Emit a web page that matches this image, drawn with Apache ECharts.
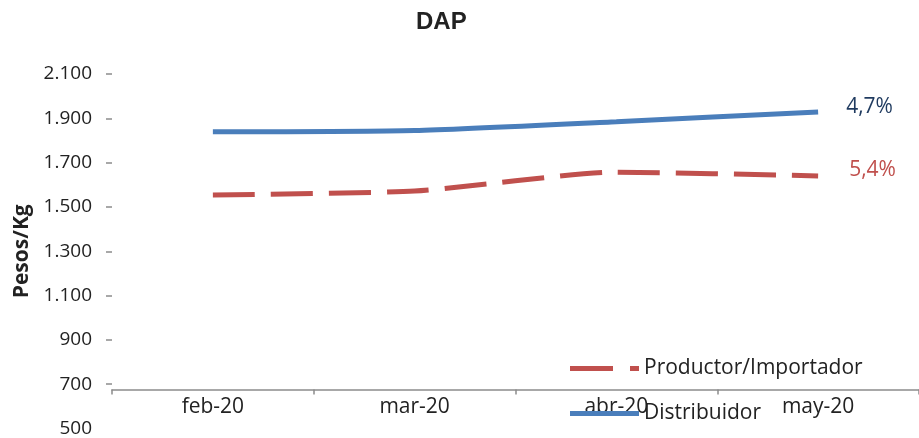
<!DOCTYPE html>
<html><head><meta charset="utf-8">
<script src="https://cdn.jsdelivr.net/npm/echarts@6/dist/echarts.min.js"></script>
<style>html,body{margin:0;padding:0;background:#fff}#c{width:919px;height:438px}</style>
</head><body><div id="c"></div>
<script>
const categories = ['feb-20', 'mar-20', 'abr-20', 'may-20'];
const productor = [1554, 1572, 1657, 1640];
const distribuidor = [1839, 1845, 1885, 1929];
const yTicks = [700, 900, 1100, 1300, 1500, 1700, 1900, 2100];
const endLabels = { productor: '5,4%', distribuidor: '4,7%' };

const FONT = '"Open Sans", sans-serif';
const chart = echarts.init(document.getElementById('c'));
chart.setOption({
  animation: false,
  title: { text: 'DAP', left: 411, top: 5,
    textStyle: { fontFamily: 'Liberation Sans, Arial, sans-serif', fontWeight: 'bold', fontSize: 24, color: '#222' } },
  grid: { left: 112, right: 0, top: 74, bottom: 7 },
  legend: {
    orient: 'vertical', left: 565, top: 353, itemWidth: 69, itemHeight: 5, itemGap: 24,
    textStyle: { fontFamily: FONT, fontSize: 21, color: '#222', padding: [0, 0, 0, 0] },
    data: [
      { name: 'Productor/Importador', icon: 'path://M0,0h43v5h-43z M60,0h9v5h-9z' },
      { name: 'Distribuidor', icon: 'path://M0,0h69v5h-69z' }
    ]
  },
  xAxis: {
    type: 'category', data: categories, offset: -39,
    axisLine: { lineStyle: { color: '#8c8c8c', width: 1.5 } },
    axisTick: { show: true, length: 5, lineStyle: { color: '#8c8c8c', width: 1.5 } },
    axisLabel: { fontFamily: FONT, fontSize: 21, color: '#222', margin: 7 }
  },
  yAxis: {
    type: 'value', min: 500, max: 2100, interval: 200,
    name: 'Pesos/Kg', nameLocation: 'middle', nameGap: 79, nameRotate: 90,
    nameTextStyle: { fontFamily: FONT, fontWeight: 'bold', fontSize: 21, color: '#222' },
    axisLine: { show: false },
    axisTick: { show: true, inside: false, length: 6, customValues: yTicks, lineStyle: { color: '#8c8c8c', width: 1.5 } },
    splitLine: { show: false },
    axisLabel: { fontFamily: FONT, fontSize: 19, color: '#222', margin: 20,
      formatter: v => v >= 1000 ? Math.floor(v / 1000) + '.' + String(v % 1000).padStart(3, '0') : String(v) }
  },
  series: [
    { name: 'Productor/Importador', type: 'line', data: productor, symbol: 'none', smooth: 0.2,
      lineStyle: { color: '#c0504d', width: 5, type: [42, 16] }, itemStyle: { color: '#c0504d' },
      endLabel: { show: true, formatter: endLabels.productor, distance: 31, offset: [0, -6],
        fontFamily: FONT, fontSize: 21, color: '#c0504d' } },
    { name: 'Distribuidor', type: 'line', data: distribuidor, symbol: 'none', smooth: 0.2,
      lineStyle: { color: '#4a7ebb', width: 5 }, itemStyle: { color: '#4a7ebb' },
      endLabel: { show: true, formatter: endLabels.distribuidor, distance: 28, offset: [0, -5],
        fontFamily: FONT, fontSize: 21, color: '#1f3a5f' } }
  ]
});
</script></body></html>
